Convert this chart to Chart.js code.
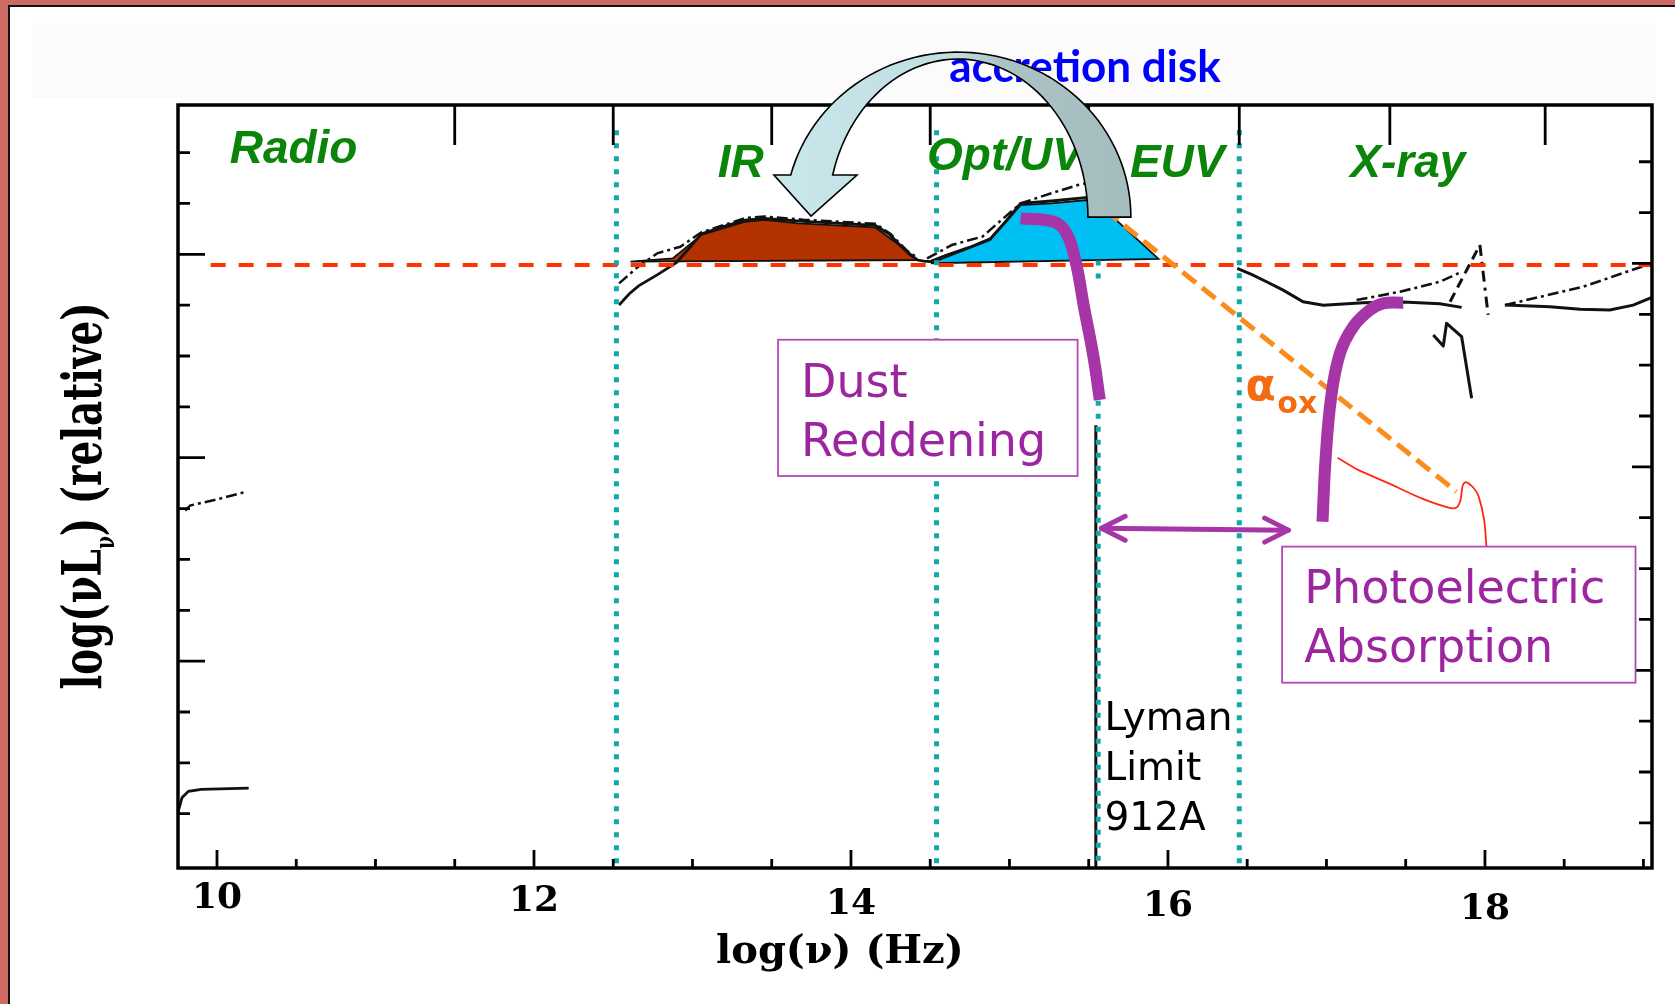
<!DOCTYPE html>
<html>
<head>
<meta charset="utf-8">
<script src="https://cdn.jsdelivr.net/npm/chart.js@4.4.0/dist/chart.umd.min.js"></script>
<style>
  html, body { margin: 0; padding: 0; background: #fff; overflow: hidden; }
  canvas { display: block; }
</style>
</head>
<body>
<canvas id="sed" width="1675" height="1004"></canvas>
<script>
// axes (x = log nu in Hz, y = log nu L_nu, relative)
const X_RANGE = [9.754, 19.054];
const Y_RANGE = [-3.017, 0.734];
const xMajorTicks = [10, 12, 14, 16, 18];
const xTickLabels = ['10', '12', '14', '16', '18'];
const xMinorTicks = [10.5, 11, 11.5, 12.5, 13, 13.5, 14.5, 15, 15.5, 16.5, 17, 17.5, 18.5, 19];
const topTicks = [11.5, 12.5, 13.5, 14.5, 15.5, 16.45, 17.4, 18.38];
const yMajorTicks = [0, -1, -2];
const yMinorTicks = [0.5, 0.25, -0.25, -0.5, -0.75, -1.25, -1.5, -1.75, -2.25, -2.5, -2.75];

// wavebands
const bandNames = ['Radio', 'IR', 'Opt/UV', 'EUV', 'X-ray'];
const bandLabelX = [10.08, 13.16, 14.48, 15.76, 17.15];
const bandLabelY = [0.449, 0.379, 0.415, 0.38, 0.379];
const bandEdges = [12.52, 14.54, 16.45];
const lymanEdgeX = 15.56;
const bandTop = 0.61;

// SED curves [log nu, log nuLnu]
const radioLoud = [[9.80, -1.26], [9.83, -1.235], [10.0, -1.205], [10.17, -1.17]];
const radioQuiet = [[9.755, -2.74], [9.78, -2.67], [9.82, -2.64], [9.9, -2.63], [10.2, -2.624]];
const irOptSolid = [[12.537, -0.249], [12.6, -0.195], [12.66, -0.155], [12.78, -0.1], [12.9, -0.04], [12.98, 0.03],
  [13.056, 0.1], [13.2, 0.138], [13.333, 0.168], [13.454, 0.176], [13.7, 0.162], [14.154, 0.142], [14.24, 0.1],
  [14.31, 0.045], [14.37, 0.0], [14.42, -0.028], [14.46, -0.034], [14.5, -0.036], [14.6, -0.005], [14.75, 0.035],
  [14.878, 0.076], [14.98, 0.165], [15.07, 0.25], [15.264, 0.262], [15.494, 0.28], [15.6, 0.29]];
const irDash = [[12.537, -0.143], [12.657, -0.061], [12.778, 0.005], [12.923, 0.037], [13.056, 0.108], [13.333, 0.178],
  [13.454, 0.186], [13.7, 0.17], [14.154, 0.15], [14.25, 0.1], [14.35, 0.02], [14.42, -0.018]];
const uvDash = [[14.48, -0.02], [14.54, 0.005], [14.637, 0.046], [14.83, 0.087], [14.95, 0.169], [15.07, 0.25],
  [15.264, 0.3], [15.433, 0.341], [15.55, 0.36]];
const irBump = [[12.609, -0.036], [12.875, -0.02], [13.056, 0.095], [13.333, 0.16], [13.454, 0.169], [13.67, 0.152],
  [14.154, 0.132], [14.347, 0.021], [14.42, -0.028], [12.609, -0.036]];
const uvBump = [[14.504, -0.044], [14.878, 0.07], [15.07, 0.242], [15.264, 0.25], [15.494, 0.267], [15.535, 0.268],
  [15.94, -0.022], [14.504, -0.044]];
const lymanDrop = [[15.545, -0.84], [15.545, -3.017]];
const xraySolidA = [[16.437, -0.069], [16.53, -0.1], [16.622, -0.135], [16.727, -0.176], [16.853, -0.233], [16.98, -0.25],
  [17.232, -0.238], [17.484, -0.235], [17.716, -0.243], [17.853, -0.261]];
const xraySolidB = [[18.126, -0.249], [18.41, -0.258], [18.6, -0.27], [18.788, -0.274], [18.935, -0.25], [19.054, -0.212]];
const xrayDashA = [[17.19, -0.225], [17.464, -0.184], [17.716, -0.135], [17.853, -0.086]];
const xrayDashB = [[18.126, -0.25], [18.62, -0.159], [19.054, -0.044]];
const xrayHatchA = [[17.78, -0.233], [17.968, 0.046]];
const xrayHatchB = [[17.968, 0.046], [18.02, -0.298]];
const xraySquiggle = [[17.674, -0.397], [17.737, -0.451], [17.758, -0.339], [17.853, -0.405], [17.916, -0.708]];

// overlays
const refLevel = -0.053;
const refLine = [[9.96, refLevel], [19.054, refLevel]];
const alphaOx = [[15.6, 0.22], [17.82, -1.167]];
const dustTrack = [[15.07, 0.177], [15.28, 0.16], [15.36, 0.103], [15.42, -0.044], [15.47, -0.258], [15.53, -0.503], [15.57, -0.716]];
const photoTrack = [[16.975, -1.315], [16.995, -1.0], [17.03, -0.7], [17.085, -0.487], [17.169, -0.356], [17.274, -0.274],
  [17.358, -0.241], [17.484, -0.238]];
const absorbModel = [[17.07, -1.0], [17.2, -1.06], [17.39, -1.125], [17.6, -1.2], [17.77, -1.245], [17.82, -1.245],
  [17.845, -1.21], [17.86, -1.135], [17.88, -1.12], [17.93, -1.15], [17.96, -1.19], [17.995, -1.306], [18.01, -1.44]];
const euvGap = [[15.58, -1.347], [16.76, -1.356]];
const gapHeadLeft = [[15.73, -1.288], [15.58, -1.347], [15.73, -1.406]];
const gapHeadRight = [[16.61, -1.297], [16.76, -1.356], [16.61, -1.415]];

// annotation text
const dustBox = [13.54, 15.43, -0.42, -1.09];
const dustLines = ['Dust', 'Reddening'];
const dustTextY = [-0.70, -0.99];
const photoBox = [16.72, 18.95, -1.437, -2.106];
const photoLines = ['Photoelectric', 'Absorption'];
const photoTextY = [-1.716, -2.003];
const lymanLines = ['Lyman', 'Limit', '912A'];
const lymanTextY = [-2.339, -2.585, -2.83];

// curved "accretion disk" arrow
const arcCenter = [14.675, 0.183];
const arcOuter = [1.091, 0.811];
const arcInner = [0.82, 0.777];
const arrowHead = [[13.514, 0.39], [13.748, 0.188], [14.038, 0.39]];

const toXY = pts => pts.map(([x, y]) => ({ x, y }));
const line = (pts, color, width, order, extra = {}) => ({
  data: toXY(pts), showLine: true, pointRadius: 0, borderColor: color,
  borderWidth: width, fill: false, tension: 0, order, ...extra
});
const dashDot = [11, 4, 3, 4];
const black = '#111';
const cyan = '#12a8a8';
const purple = '#a636a8';

const datasets = [
  line(irBump, black, 1.8, 10, { fill: 'shape', backgroundColor: '#b33200' }),
  line(uvBump, black, 1.8, 10, { fill: 'shape', backgroundColor: '#00bff3' }),
  line(radioQuiet, black, 2.8, 8),
  line(radioLoud, black, 2.5, 8, { borderDash: dashDot }),
  line(irOptSolid, black, 2.8, 8),
  line(irDash, black, 2.5, 8, { borderDash: dashDot }),
  line(uvDash, black, 2.5, 8, { borderDash: dashDot }),
  line(lymanDrop, black, 3, 8),
  line(xraySolidA, black, 3, 8),
  line(xraySolidB, black, 3, 8),
  line(xrayDashA, black, 2.6, 8, { borderDash: dashDot }),
  line(xrayDashB, black, 2.6, 8, { borderDash: dashDot }),
  line(xrayHatchA, black, 3, 8, { borderDash: [10, 6] }),
  line(xrayHatchB, black, 3, 8, { borderDash: [11, 6, 3, 6] }),
  line(xraySquiggle, black, 3, 8, { borderJoinStyle: 'round' }),
  line(refLine, '#ff3300', 4, 7, { borderDash: [15, 13] }),
  ...bandEdges.map(v => line([[v, bandTop], [v, Y_RANGE[0]]], cyan, 5, 6, { borderDash: [5, 8] })),
  line([[lymanEdgeX, -0.03], [lymanEdgeX, -0.13]], cyan, 5, 6, { borderDash: [5, 8] }),
  line([[lymanEdgeX, -0.72], [lymanEdgeX, Y_RANGE[0]]], cyan, 5, 6, { borderDash: [5, 8] }),
  line(alphaOx, '#fb8c1c', 5, 5, { borderDash: [17, 8] }),
  line(absorbModel, '#ff2a12', 1.8, 4, { tension: 0.25 }),
  line(dustTrack, purple, 12, 2, { tension: 0.4, borderCapStyle: 'butt' }),
  line(photoTrack, purple, 12, 2, { tension: 0.4, borderCapStyle: 'butt' }),
  line(euvGap, purple, 5, 2, { borderCapStyle: 'round' }),
  line(gapHeadLeft, purple, 5, 2, { borderCapStyle: 'round', borderJoinStyle: 'round' }),
  line(gapHeadRight, purple, 5, 2, { borderCapStyle: 'round', borderJoinStyle: 'round' })
];

const decor = {
  id: 'decor',
  beforeDraw(chart) {
    const { ctx, width, height } = chart;
    ctx.save();
    ctx.fillStyle = '#fff';
    ctx.fillRect(0, 0, width, height);
    ctx.fillStyle = '#fbfbfb';
    ctx.fillRect(32, 23, 1624, 75);
    ctx.fillStyle = '#cd6a64';
    ctx.fillRect(0, 0, width, 5);
    ctx.fillRect(0, 0, 8, height);
    ctx.fillStyle = '#111';
    ctx.fillRect(8, 5, width - 8, 2);
    ctx.fillRect(8, 5, 2, height);
    ctx.restore();
  },
  afterDatasetsDraw(chart) {
    const { ctx, chartArea: a, scales } = chart;
    const X = v => scales.x.getPixelForValue(v);
    const Y = v => scales.y.getPixelForValue(v);
    ctx.save();

    // frame and inward ticks
    ctx.strokeStyle = '#000';
    ctx.lineWidth = 3.5;
    ctx.strokeRect(a.left, a.top, a.right - a.left, a.bottom - a.top);
    ctx.lineWidth = 2.8;
    ctx.beginPath();
    xMajorTicks.forEach(v => { ctx.moveTo(X(v), a.bottom); ctx.lineTo(X(v), a.bottom - 18); });
    xMinorTicks.forEach(v => { ctx.moveTo(X(v), a.bottom); ctx.lineTo(X(v), a.bottom - 9); });
    topTicks.forEach(v => { ctx.moveTo(X(v), a.top); ctx.lineTo(X(v), a.top + 40); });
    yMajorTicks.forEach(v => {
      ctx.moveTo(a.left, Y(v)); ctx.lineTo(a.left + 27, Y(v));
      ctx.moveTo(a.right, Y(v - 0.045)); ctx.lineTo(a.right - 20, Y(v - 0.045));
    });
    yMinorTicks.forEach(v => {
      ctx.moveTo(a.left, Y(v)); ctx.lineTo(a.left + 12, Y(v));
      ctx.moveTo(a.right, Y(v - 0.045)); ctx.lineTo(a.right - 13, Y(v - 0.045));
    });
    ctx.stroke();

    // tick labels and axis titles
    ctx.fillStyle = '#000';
    ctx.textBaseline = 'alphabetic';
    ctx.textAlign = 'center';
    ctx.font = 'bold 36px "DejaVu Serif"';
    xMajorTicks.forEach((v, i) => ctx.fillText(xTickLabels[i], X(v), a.bottom + 40 + (v - 10) * 1.4));
    ctx.font = 'bold 40px "DejaVu Serif"';
    ctx.fillText('log(\u03bd) (Hz)', X(13.93), Y(-3.484));

    ctx.save();
    ctx.translate(101, 496);
    ctx.rotate(-Math.PI / 2);
    const parts = [['log(\u03bdL', 'bold 54px "DejaVu Serif"', 0], ['\u03bd', 'bold 26px "DejaVu Serif"', 13],
      [') (relative)', 'bold 54px "DejaVu Serif"', 0]];
    let total = 0;
    parts.forEach(p => { ctx.font = p[1]; p.push(ctx.measureText(p[0]).width); total += p[3]; });
    ctx.scale(387 / total, 1);
    ctx.textAlign = 'left';
    let cx = -total / 2;
    parts.forEach(p => { ctx.font = p[1]; ctx.fillText(p[0], cx, p[2]); cx += p[3]; });
    ctx.restore();

    // waveband names
    ctx.textAlign = 'left';
    ctx.fillStyle = '#0a850a';
    ctx.font = 'italic bold 46px "Liberation Sans", Arial, sans-serif';
    bandNames.forEach((n, i) => ctx.fillText(n, X(bandLabelX[i]), Y(bandLabelY[i])));

    // boxed labels
    const drawBox = b => {
      ctx.fillStyle = '#fff';
      ctx.fillRect(X(b[0]), Y(b[2]), X(b[1]) - X(b[0]), Y(b[3]) - Y(b[2]));
      ctx.strokeStyle = '#b24ab6';
      ctx.lineWidth = 1.8;
      ctx.strokeRect(X(b[0]), Y(b[2]), X(b[1]) - X(b[0]), Y(b[3]) - Y(b[2]));
    };
    drawBox(dustBox);
    drawBox(photoBox);
    ctx.fillStyle = '#9c269f';
    ctx.font = '46px "DejaVu Sans"';
    dustLines.forEach((t, i) => ctx.fillText(t, X(13.685), Y(dustTextY[i])));
    photoLines.forEach((t, i) => ctx.fillText(t, X(16.86), Y(photoTextY[i])));
    ctx.fillStyle = '#000';
    ctx.font = '39px "DejaVu Sans"';
    lymanLines.forEach((t, i) => ctx.fillText(t, X(15.6), Y(lymanTextY[i])));

    ctx.fillStyle = '#f36c12';
    ctx.font = 'bold 44px "DejaVu Sans"';
    ctx.fillText('\u03b1', X(16.49), Y(-0.716));
    ctx.font = 'bold 30px "DejaVu Sans"';
    ctx.fillText('ox', X(16.69), Y(-0.78));

    ctx.fillStyle = '#0000ff';
    ctx.font = 'bold 44px Lato, "DejaVu Sans", sans-serif';
    ctx.fillText('accretion disk', X(14.62), Y(0.847));

    // curved arrow from the disk emission to the IR
    const cxp = X(arcCenter[0]), cyp = Y(arcCenter[1]);
    const rxo = X(arcCenter[0] + arcOuter[0]) - cxp, ryo = cyp - Y(arcCenter[1] + arcOuter[1]);
    const rxi = X(arcCenter[0] + arcInner[0]) - cxp, ryi = cyp - Y(arcCenter[1] + arcInner[1]);
    const baseY = Y(arrowHead[0][1]);
    const tO = Math.PI - Math.asin((cyp - baseY) / ryo);
    const tI = Math.PI - Math.asin((cyp - baseY) / ryi);
    ctx.beginPath();
    for (let k = 0; k <= 60; k++) {
      const t = tO * k / 60;
      ctx.lineTo(cxp + rxo * Math.cos(t), cyp - ryo * Math.sin(t));
    }
    arrowHead.forEach(([hx, hy]) => ctx.lineTo(X(hx), Y(hy)));
    for (let k = 60; k >= 0; k--) {
      const t = tI * k / 60;
      ctx.lineTo(cxp + rxi * Math.cos(t), cyp - ryi * Math.sin(t));
    }
    ctx.closePath();
    const g = ctx.createLinearGradient(X(13.5), 0, X(15.85), 0);
    g.addColorStop(0, '#c9e8ec');
    g.addColorStop(0.5, '#c0dde0');
    g.addColorStop(0.62, '#acc3c5');
    g.addColorStop(1, '#a5bcbe');
    ctx.fillStyle = g;
    ctx.fill();
    ctx.strokeStyle = '#000';
    ctx.lineWidth = 1.6;
    ctx.stroke();

    ctx.restore();
  }
};

new Chart(document.getElementById('sed'), {
  type: 'scatter',
  data: { datasets },
  options: {
    responsive: false,
    animation: false,
    devicePixelRatio: 1,
    layout: { padding: { left: 178, top: 105, right: 23, bottom: 136 } },
    scales: {
      x: { type: 'linear', min: X_RANGE[0], max: X_RANGE[1], display: false },
      y: { type: 'linear', min: Y_RANGE[0], max: Y_RANGE[1], display: false }
    },
    plugins: { legend: { display: false }, tooltip: { enabled: false } },
    elements: { point: { radius: 0 } }
  },
  plugins: [decor]
});
</script>
</body>
</html>
